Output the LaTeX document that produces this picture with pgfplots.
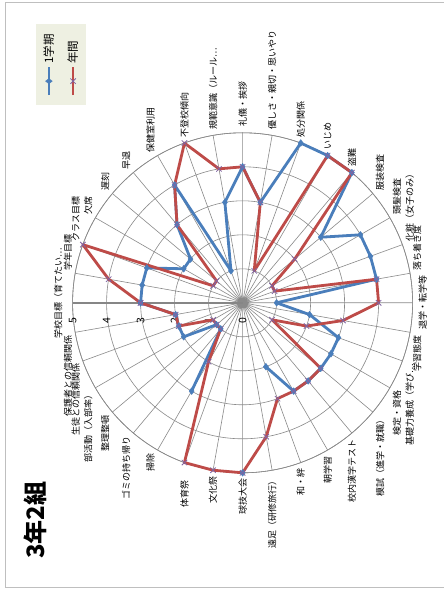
\documentclass[border=0pt]{standalone}
\usepackage{fontspec}
\setmainfont{Noto Sans CJK JP}
\usepackage{pgfplots}
\usepackage{pgfplotstable}
\pgfplotsset{compat=1.18}
\usepgfplotslibrary{polar}

\definecolor{termblue}{HTML}{4A7EBB}
\definecolor{yearred}{HTML}{BE4B48}
\definecolor{crossviolet}{HTML}{8064A2}
\definecolor{gridgray}{HTML}{8A8A8A}
\definecolor{axisgray}{HTML}{868686}
\definecolor{legendbg}{HTML}{EEF0E2}
\definecolor{framegray}{HTML}{BFBFBF}

\pgfplotsset{
  termstyle/.style={termblue, line width=2.8bp, line join=round, mark=diamond*, mark size=3.4bp,
    mark options={fill=termblue, draw=termblue, line width=0.4bp}},
  yearstyle/.style={yearred, line width=2.8bp, line join=round, mark=x, mark size=3.8bp,
    mark options={draw=crossviolet, line width=0.8bp}},
}

% ang: direction of the category spoke (degrees, counter-clockwise from east)
% term: 1学期, year: 年間 (nan = not yet rated)
\pgfplotstableread{
ang   term  year
180   3     3
170   3     4
160   3     5
150   2     1
140   2     1
130   3     3
120   4     4
110   1     5
100   3     4
90    4     4
80    3     3
70    5     1
60    5     5
50    5     5
40    3     2
30    4     1
20    4     1
10    4     4
0     1     4
-10   2     3
-20   3     2
-30   3     1
-40   3     3
-50   3     3
-60   3     3
-70   2     3
-80   nan   4
-90   5     5
-100  nan   5
-110  nan   5
-120  3     2
-130  1     1
-140  1     1
-150  2     1
-160  2     2
-170  2     2
-180  3     3
}\scores

\begin{document}
\begin{tikzpicture}[
  cat/.style={rotate=90, inner sep=0pt, font=\fontsize{9bp}{10bp}\selectfont},
  lsw/.style={cat, anchor=south west, outer xsep=3bp, outer ysep=3bp},
  lw/.style={cat, anchor=west, outer xsep=6bp},
  lnw/.style={cat, anchor=north west, outer xsep=3bp, outer ysep=3bp},
  ln/.style={cat, anchor=north, outer ysep=6bp},
  ls/.style={cat, anchor=south, outer ysep=10bp},
  lne/.style={cat, anchor=north east, outer xsep=3bp, outer ysep=3bp},
  le/.style={cat, anchor=east, outer xsep=6bp},
  lse/.style={cat, anchor=south east, outer xsep=3bp, outer ysep=3bp},
]
\clip (0bp,0bp) rectangle (444bp,589bp);
\fill[white] (0bp,0bp) rectangle (444bp,589bp);
\draw[framegray, line width=1bp] (5.5bp,1.5bp) rectangle (470bp,586bp);

\begin{polaraxis}[
  at={(242.6bp,286.2bp)}, anchor=center,
  scale only axis, width=340bp, height=340bp,
  xmin=-180, xmax=180, ymin=0, ymax=5,
  xtick={-170,-160,...,180},
  ytick={0,1,...,5},
  xticklabels={}, yticklabels={},
  xmajorgrids, ymajorgrids,
  major grid style={gridgray, line width=0.6bp},
  axis line style={gridgray, line width=0.6bp},
  major tick length=0pt,
  unbounded coords=jump,
  clip=false,
]
% value axis along the first category
\draw[axisgray, line width=1.6bp] (axis cs:180,0) -- (axis cs:180,5);
\pgfplotsinvokeforeach{0,...,5}{%
  \node[rotate=90, anchor=east, inner sep=0pt, outer xsep=15bp,
        font=\fontsize{10.5bp}{11bp}\selectfont] at (axis cs:180,#1) {#1};}

\addplot[termstyle] table[x=ang, y=term] {\scores};
\addplot[yearstyle] table[x=ang, y=year] {\scores};

% category names
\node[yshift=10bp, ls] at (axis cs:180,5) {学校目標（育てたい…};
\node[lsw] at (axis cs:170,5) {学年目標};
\node[lsw] at (axis cs:160,5) {クラス目標};
\node[lsw] at (axis cs:150,5) {欠席};
\node[lsw] at (axis cs:140,5) {遅刻};
\node[lsw] at (axis cs:130,5) {早退};
\node[lsw] at (axis cs:120,5) {保健室利用};
\node[lw] at (axis cs:110,5) {不登校傾向};
\node[lw] at (axis cs:100,5) {規範意識（ルール…};
\node[lw] at (axis cs:90,5) {礼儀・挨拶};
\node[lw] at (axis cs:80,5) {優しさ・親切・思いやり};
\node[lw] at (axis cs:70,5) {処分関係};
\node[lw] at (axis cs:60,5) {いじめ};
\node[lw] at (axis cs:50,5) {盗難};
\node[lnw] at (axis cs:40,5) {服装検査};
\node[lnw] at (axis cs:30,5) {頭髪検査};
\node[lnw] at (axis cs:20,5) {化粧（女子のみ）};
\node[lnw] at (axis cs:10,5) {落ち着き度};
\node[ln] at (axis cs:0,5) {退学・転学等};
\node[lne] at (axis cs:-10,5) {学習態度};
\node[lne] at (axis cs:-20,5) {基礎力養成（学び…};
\node[lne] at (axis cs:-30,5) {検定・資格};
\node[lne] at (axis cs:-40,5) {模試（進学・就職）};
\node[le] at (axis cs:-50,5) {校内漢字テスト};
\node[le] at (axis cs:-60,5) {朝学習};
\node[le] at (axis cs:-70,5) {和・絆};
\node[le] at (axis cs:-80,5) {遠足（研修旅行）};
\node[le] at (axis cs:-90,5) {球技大会};
\node[le] at (axis cs:-100,5) {文化祭};
\node[le, outer xsep=18bp] at (axis cs:-110,5) {体育祭};
\node[lse] at (axis cs:-120,5) {掃除};
\node[lse] at (axis cs:-130,5) {ゴミの持ち帰り};
\node[lse] at (axis cs:-140,5) {整理整頓};
\node[lse] at (axis cs:-150,5) {部活動（入部率）};
\node[lse] at (axis cs:-160,5) {生徒との信頼関係};
\node[lse] at (axis cs:-170,5) {保護者との信頼関係};
\end{polaraxis}

% legend, turned a quarter like the rest of the chart
\begin{scope}[transform canvas={rotate around={90:(61bp,524.5bp)}}]
\begin{axis}[
  hide axis, scale only axis, width=2bp, height=2bp,
  at={(61bp,524.5bp)}, anchor=center,
  xmin=0, xmax=1, ymin=0, ymax=1,
  legend style={
    at={(0.5,0.5)}, anchor=center,
    fill=legendbg, draw=none,
    font=\fontsize{11.5bp}{13bp}\selectfont,
    inner xsep=8bp, inner ysep=5bp, row sep=9bp,
  },
  legend cell align=left,
  legend image code/.code={%
    \draw[mark repeat=2, mark phase=2, #1]
      plot coordinates {(0bp,0bp) (14bp,0bp) (28bp,0bp)};},
]
\addlegendimage{termstyle}
\addlegendentry{1学期}
\addlegendimage{yearstyle}
\addlegendentry{年間}
\end{axis}
\end{scope}

\node[rotate=90, font=\fontsize{24bp}{28bp}\selectfont\bfseries] at (35bp,69bp) {3年2組};
\end{tikzpicture}
\end{document}
